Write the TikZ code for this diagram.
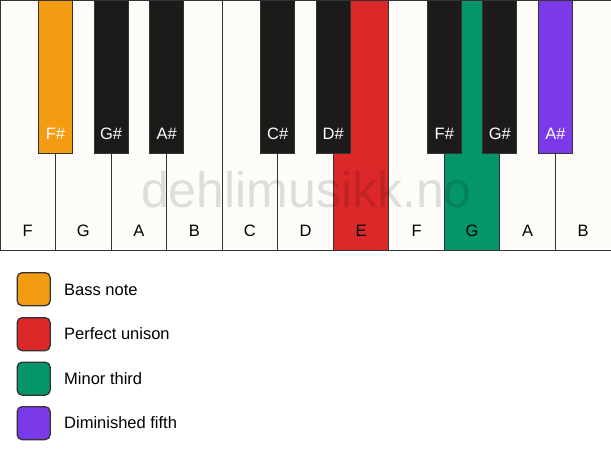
\documentclass[tikz,border=0pt]{standalone}
\usepackage{fontspec}
\setmainfont{Liberation Sans}
\usetikzlibrary{calc}
\definecolor{keywhite}{HTML}{FDFCF9}
\definecolor{keyblack}{HTML}{1C1B1A}
\definecolor{keyedge}{HTML}{333333}
\definecolor{cbass}{HTML}{F39C12}
\definecolor{cunison}{HTML}{DC2828}
\definecolor{cthird}{HTML}{05956A}
\definecolor{cfifth}{HTML}{7B3AEA}
\tikzset{
  whitekey/.style={draw=keyedge, line width=1pt, fill=keywhite, anchor=north west, minimum width=55.545pt, minimum height=250pt, inner sep=0pt, outer sep=0pt},
  blackkey/.style={draw=keyedge, line width=1pt, fill=keyblack, anchor=north, minimum width=34pt, minimum height=153pt, inner sep=0pt, outer sep=0pt},
  wlabel/.style={anchor=base, font=\fontsize{16.5}{18}\selectfont, text=black, inner sep=0pt},
  blabel/.style={anchor=base, font=\fontsize{16.5}{18}\selectfont, text=white, inner sep=0pt},
  legbox/.style={draw=keyedge, line width=1.3pt, rounded corners=5pt, minimum width=33pt, minimum height=33pt, anchor=north west, inner sep=0pt},
  legtext/.style={anchor=base west, font=\fontsize{16.5}{18}\selectfont, inner sep=0pt},
  watermark/.style={font=\fontsize{50}{52}\selectfont, text=black, text opacity=0.12, anchor=base, inner sep=0pt}
}
\begin{document}
\begin{tikzpicture}[x=1pt,y=-1pt]
\useasboundingbox (0,0) rectangle (611,461);
\fill[white] (0,0) rectangle (611,461);
% white keys
\foreach \i/\n/\c in {0/F/keywhite,1/G/keywhite,2/A/keywhite,3/B/keywhite,4/C/keywhite,5/D/keywhite,6/E/cunison,7/F/keywhite,8/G/cthird,9/A/keywhite,10/B/keywhite}{
  \node[whitekey, fill=\c] (w\i) at (\i*55.545,0) {};
  \node[wlabel] (wl\i) at ($(w\i.south)+(0,-14)$) {\n};
}
% black keys
\foreach \i/\n/\c in {1/F\#/cbass,2/G\#/keyblack,3/A\#/keyblack,5/C\#/keyblack,6/D\#/keyblack,8/F\#/keyblack,9/G\#/keyblack,10/A\#/cfifth}{
  \node[blackkey, fill=\c] (b\i) at (\i*55.545,0) {};
  \node[blabel] (bl\i) at ($(b\i.south)+(0,-14)$) {\n};
}
% watermark
\node[watermark] (wm) at (306.5,207) {dehlimusikk.no};
% legend
\node[legbox, fill=cbass] (l1) at (16.5,272) {};
\node[legtext] (t1) at (64,295) {Bass note};
\node[legbox, fill=cunison] (l2) at (16.5,317) {};
\node[legtext] (t2) at (64,339.5) {Perfect unison};
\node[legbox, fill=cthird] (l3) at (16.5,361.5) {};
\node[legtext] (t3) at (64,384) {Minor third};
\node[legbox, fill=cfifth] (l4) at (16.5,406) {};
\node[legtext] (t4) at (64,428.5) {Diminished fifth};
\end{tikzpicture}
\end{document}
